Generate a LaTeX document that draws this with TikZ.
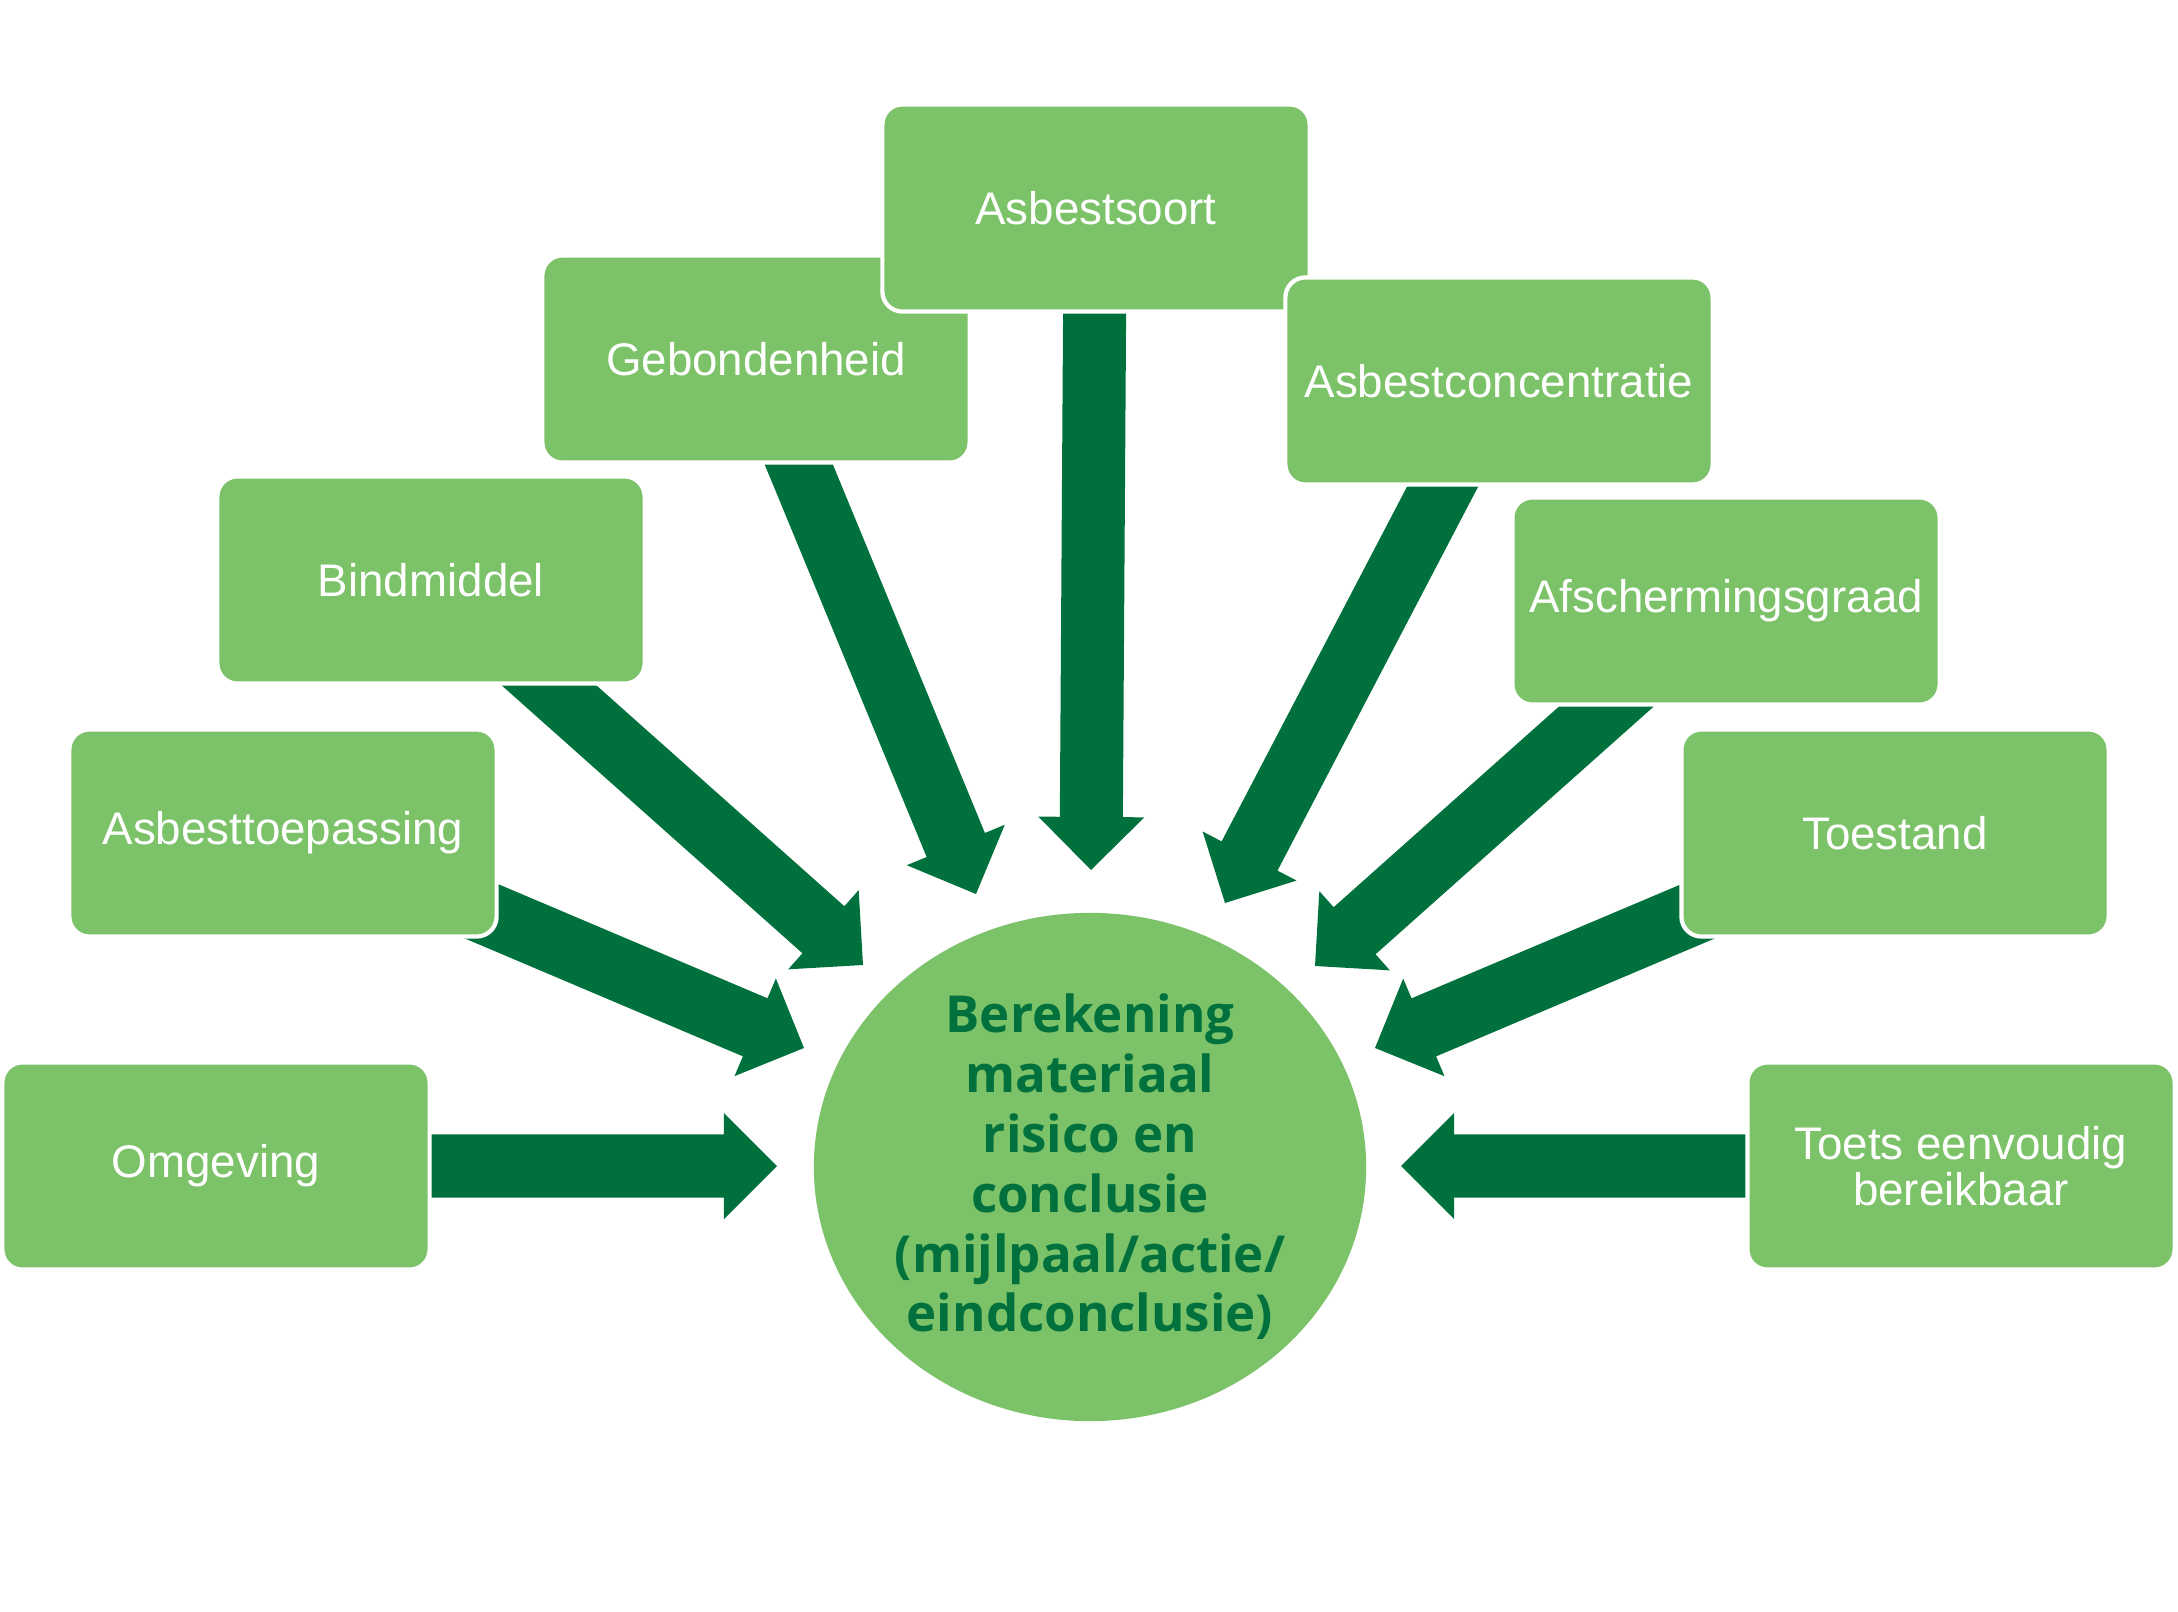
\documentclass[tikz,border=0pt]{standalone}
\usepackage{fontspec}
\setmainfont{Liberation Sans}
\newfontfamily\ctrfont{Open Sans}
\usetikzlibrary{calc,shapes.geometric}
\definecolor{lightg}{RGB}{124,194,104}
\definecolor{darkg}{RGB}{0,113,61}
% block arrow from tail coordinate #1 to tip coordinate #2
\newcommand{\blockarrow}[2]{%
  \coordinate (H) at ($(#2)!0.53cm!(#1)$);
  \fill[darkg] ($(#1)!0.315cm!90:(#2)$) -- ($(H)!0.315cm!90:(#2)$) -- ($(H)!0.53cm!90:(#2)$) -- (#2)
     -- ($(H)!0.53cm!-90:(#2)$) -- ($(H)!0.315cm!-90:(#2)$) -- ($(#1)!0.315cm!-90:(#2)$) -- cycle;
}
\begin{document}
\begin{tikzpicture}[x=0.01cm,y=-0.01cm,
  box/.style={rectangle, rounded corners=0.2cm, fill=lightg, draw=white, line width=1.2pt,
    minimum width=4.27cm, minimum height=2.07cm, text=white, inner sep=0pt, align=center,
    font=\fontsize{13}{13}\selectfont},
  hub/.style={ellipse, fill=lightg, minimum width=5.52cm, minimum height=5.08cm, inner sep=0pt},
  hubtext/.style={text=darkg, align=center, font=\ctrfont\bfseries\fontsize{14.5}{17}\selectfont}]
\useasboundingbox (0,0) rectangle (2178,1612);

% centre
\node[hub] (c) at (1090,1167) {};
\node[hubtext] (ct) at (1090,1167) {Berekening\\materiaal\\risico en\\conclusie\\(mijlpaal/actie/\\eindconclusie)};

% arrow tails (hidden under the boxes) and tips
\coordinate (t1) at (300,1166);  \coordinate (p1) at (777,1166);
\coordinate (t2) at (252,814);   \coordinate (p2) at (804,1048);
\coordinate (t3) at (415,566);   \coordinate (p3) at (863,965);
\coordinate (t4) at (728,293);   \coordinate (p4) at (976,894);
\coordinate (t5) at (1095,250);  \coordinate (p5) at (1091,870);
\coordinate (t6) at (1526,327);  \coordinate (p6) at (1225,903);
\coordinate (t7) at (1763,567);  \coordinate (p7) at (1315,966);
\coordinate (t8) at (1928,814);  \coordinate (p8) at (1375,1048);
\coordinate (t9) at (1900,1166); \coordinate (p9) at (1401,1166);

\blockarrow{t1}{p1}
\blockarrow{t2}{p2}
\blockarrow{t3}{p3}
\blockarrow{t4}{p4}
\blockarrow{t5}{p5}
\blockarrow{t6}{p6}
\blockarrow{t7}{p7}
\blockarrow{t8}{p8}
\blockarrow{t9}{p9}

% boxes
\node[box] (b1) at (216,1166) {Omgeving};
\node[box] (b2) at (283,833) {Asbesttoepassing};
\node[box] (b3) at (431,580) {Bindmiddel};
\node[box] (b4) at (756,359) {Gebondenheid};
\node[box] (b5) at (1096,208) {Asbestsoort};
\node[box] (b6) at (1499,381) {Asbestconcentratie};
\node[box] (b7) at (1726,601) {Afschermingsgraad};
\node[box] (b8) at (1895,833) {Toestand};
\node[box] (b9) at (1961,1166) {Toets eenvoudig\\bereikbaar};
\end{tikzpicture}
\end{document}
